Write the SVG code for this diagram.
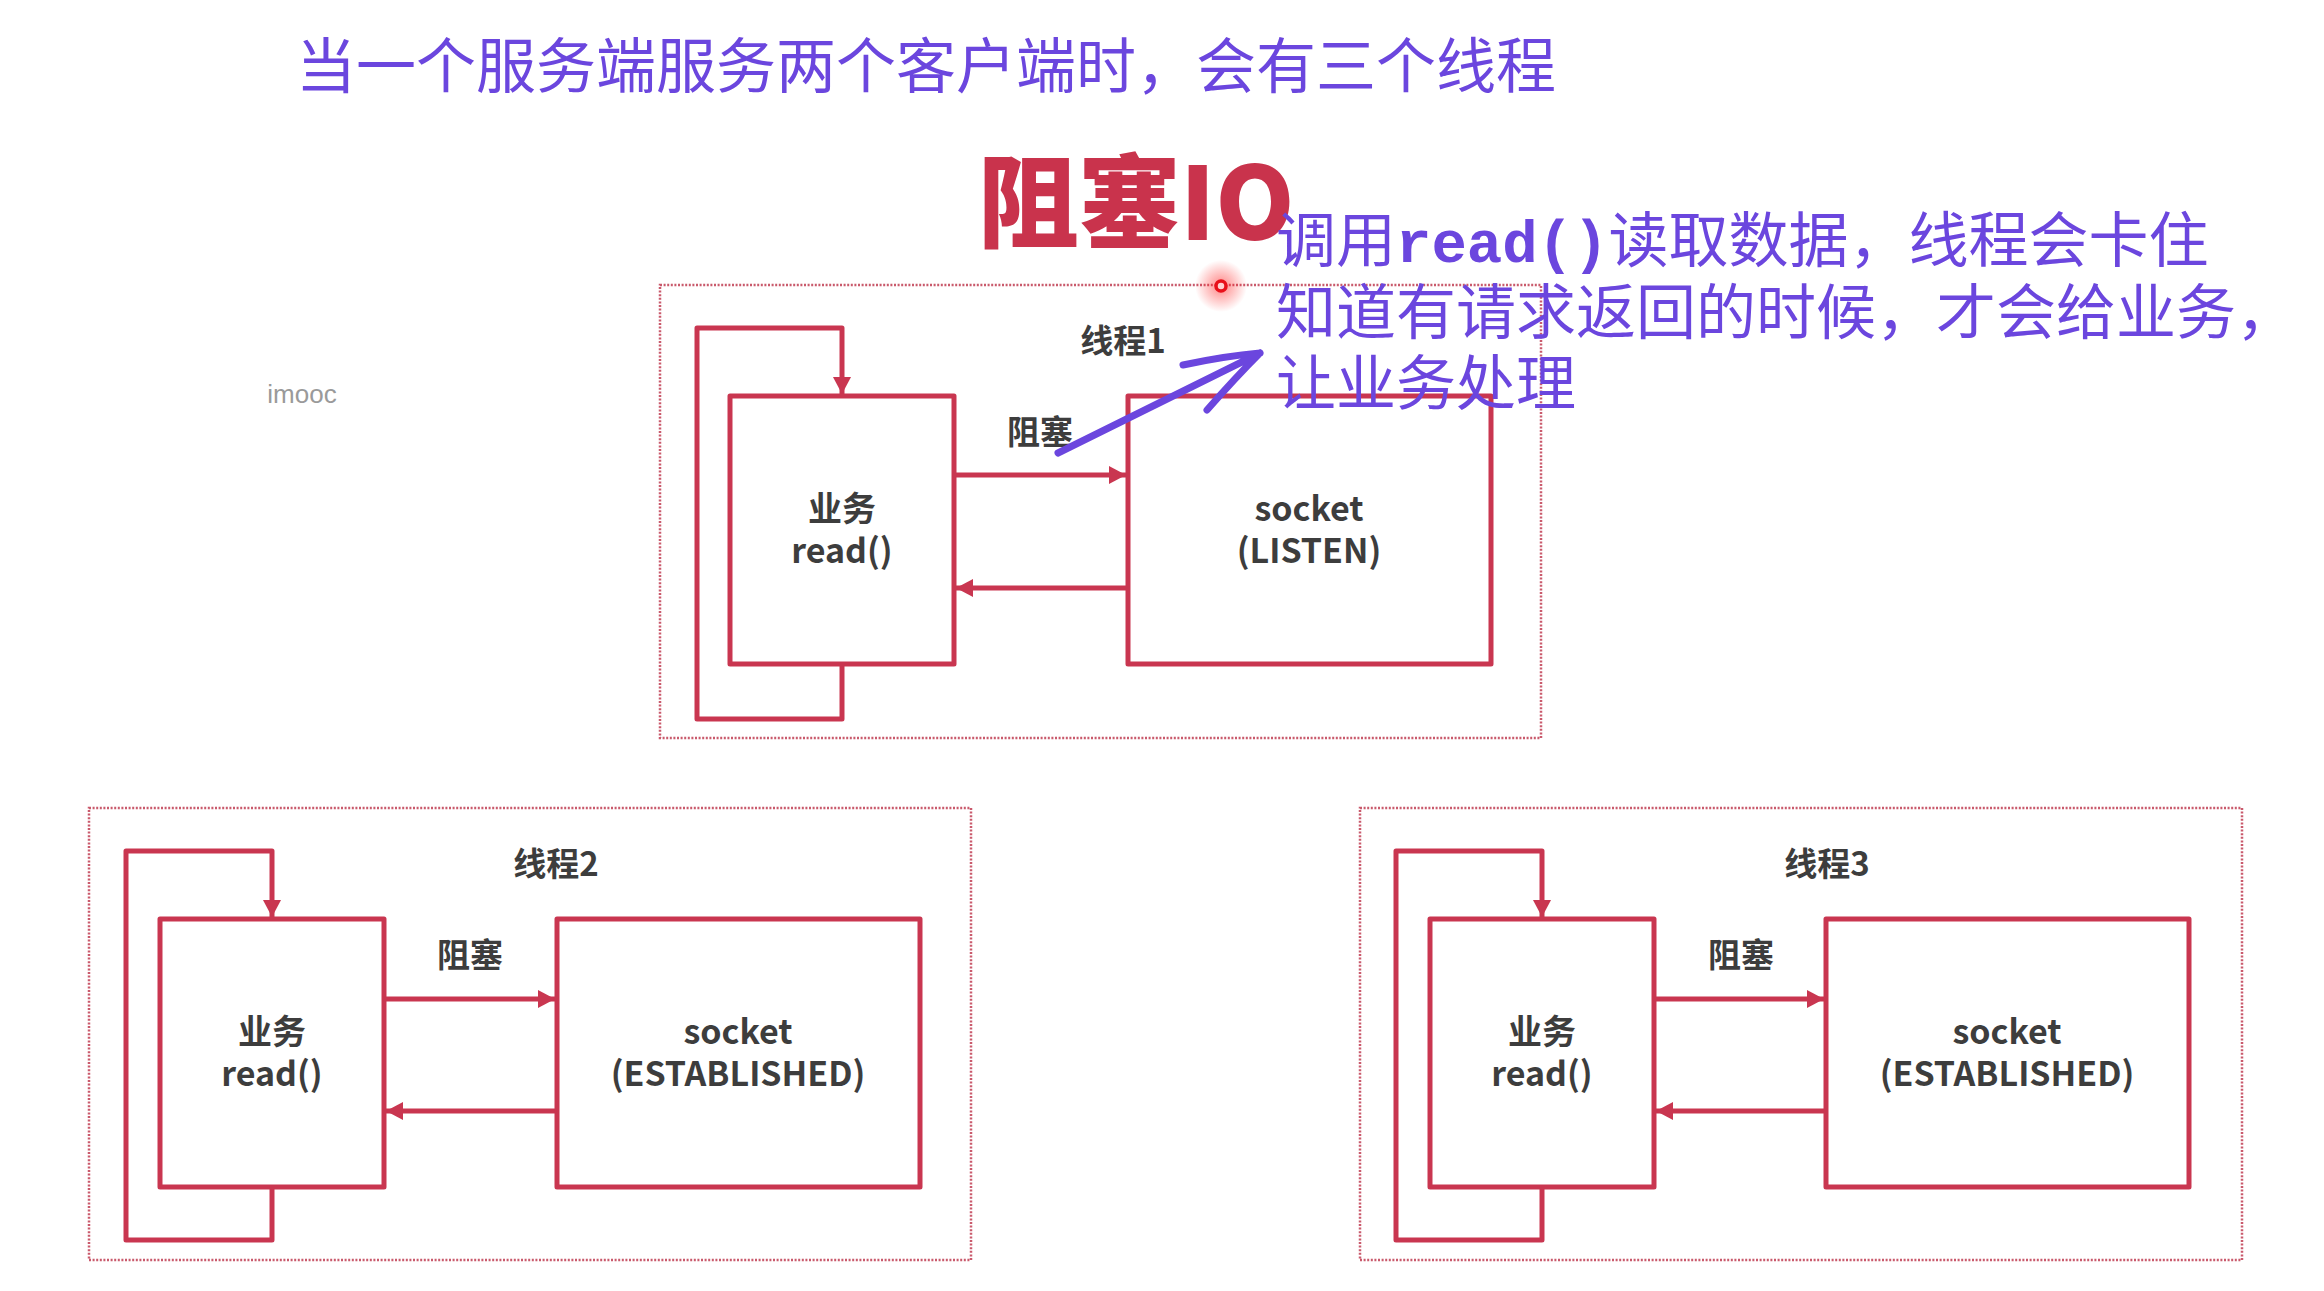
<svg xmlns="http://www.w3.org/2000/svg" width="2324" height="1291" viewBox="0 0 2324 1291">
<defs>
<style>
.dot{fill:none;stroke:#c95a6c;stroke-width:2.5;stroke-dasharray:2 1.6}
.box{fill:#fff;stroke:#c93650;stroke-width:5;stroke-linejoin:round}
.wire{fill:none;stroke:#c93650;stroke-width:5;stroke-linejoin:round}
.lbl{font-family:"Noto Sans CJK SC","Noto Sans",sans-serif;font-weight:700;font-size:34px;fill:#3d3d3d;text-anchor:middle}
.tl{font-size:33px}
.note{font-family:"Noto Sans CJK SC","Noto Sans",sans-serif;font-size:60px;fill:#6b46de}
.mono{font-family:"Liberation Mono","DejaVu Sans Mono",monospace;font-weight:700;font-size:59px}
</style>
<marker id="ah" markerUnits="userSpaceOnUse" markerWidth="18" markerHeight="18" refX="17" refY="9" orient="auto"><path d="M0,0 L17,9 L0,18 z" fill="#c93650"/></marker>
<radialGradient id="glow"><stop offset="0" stop-color="#ff2020" stop-opacity="0.55"/><stop offset="1" stop-color="#ff2020" stop-opacity="0"/></radialGradient>
</defs>
<rect width="2324" height="1291" fill="#fff"/>

<g id="title">
<text x="296" y="88" font-family="Noto Sans CJK SC, sans-serif" font-size="60" fill="#6b46de">当一个服务端服务两个客户端时，会有三个线程</text>
<text x="978" y="240" font-family="Noto Sans CJK SC, sans-serif" font-weight="900" font-size="101" fill="#c9334c">阻塞IO</text>
<text x="302" y="403" font-family="Liberation Sans, Arial, sans-serif" font-size="26" fill="#9a9a9a" text-anchor="middle">imooc</text>
</g>

<g id="threads">
<g id="thread1" transform="translate(660,285)">
<rect class="dot" x="0" y="0" width="881" height="453"/>
<text class="lbl tl" x="463" y="68">线程1</text>
<text class="lbl tl" x="380" y="159">阻塞</text>
</g>
<g id="thread2" transform="translate(89,808)">
<rect class="dot" x="0" y="0" width="882" height="452"/>
<text class="lbl tl" x="467" y="68">线程2</text>
<text class="lbl tl" x="381" y="159">阻塞</text>
</g>
<g id="thread3" transform="translate(1360,808)">
<rect class="dot" x="0" y="0" width="882" height="452"/>
<text class="lbl tl" x="467" y="68">线程3</text>
<text class="lbl tl" x="381" y="159">阻塞</text>
</g>
</g>

<g id="nodes">
<g id="t1-business" transform="translate(660,285)">
<rect class="box" x="70" y="111" width="224" height="268"/>
<text class="lbl" x="182" y="236">业务</text>
<text class="lbl" x="182" y="278">read()</text>
</g>
<g id="t1-socket" transform="translate(660,285)">
<rect class="box" x="468" y="111" width="363" height="268"/>
<text class="lbl" x="649" y="236">socket</text>
<text class="lbl" x="649" y="278">(LISTEN)</text>
</g>
<g id="t2-business" transform="translate(89,808)">
<rect class="box" x="71" y="111" width="224" height="268"/>
<text class="lbl" x="183" y="236">业务</text>
<text class="lbl" x="183" y="278">read()</text>
</g>
<g id="t2-socket" transform="translate(89,808)">
<rect class="box" x="468" y="111" width="363" height="268"/>
<text class="lbl" x="649" y="236">socket</text>
<text class="lbl" x="649" y="278">(ESTABLISHED)</text>
</g>
<g id="t3-business" transform="translate(1360,808)">
<rect class="box" x="70" y="111" width="224" height="268"/>
<text class="lbl" x="182" y="236">业务</text>
<text class="lbl" x="182" y="278">read()</text>
</g>
<g id="t3-socket" transform="translate(1360,808)">
<rect class="box" x="466" y="111" width="363" height="268"/>
<text class="lbl" x="647" y="236">socket</text>
<text class="lbl" x="647" y="278">(ESTABLISHED)</text>
</g>
</g>

<g id="connectors">
<g transform="translate(660,285)">
<path class="wire" d="M182,379 V434 H37 V43 H182 V109" marker-end="url(#ah)"/>
<path class="wire" d="M294,190 H466" marker-end="url(#ah)"/>
<path class="wire" d="M468,303 H296" marker-end="url(#ah)"/>
</g>
<g transform="translate(89,808)">
<path class="wire" d="M183,379 V432 H37 V43 H183 V109" marker-end="url(#ah)"/>
<path class="wire" d="M295,191 H466" marker-end="url(#ah)"/>
<path class="wire" d="M468,303 H297" marker-end="url(#ah)"/>
</g>
<g transform="translate(1360,808)">
<path class="wire" d="M182,379 V432 H36 V43 H182 V109" marker-end="url(#ah)"/>
<path class="wire" d="M294,191 H464" marker-end="url(#ah)"/>
<path class="wire" d="M466,303 H296" marker-end="url(#ah)"/>
</g>
</g>

<g id="annotation">
<circle cx="1221" cy="286" r="26" fill="url(#glow)"/>
<circle cx="1221" cy="286" r="5" fill="#ffd0d0" stroke="#e8101a" stroke-width="3.5"/>
<text class="note" x="1276" y="262">调用<tspan class="mono">read()</tspan>读取数据，线程会卡住</text>
<text class="note" x="1276" y="334">知道有请求返回的时候，才会给业务，</text>
<text class="note" x="1276" y="405">让业务处理</text>
<path d="M1058,453 L1260,353 M1183,365 Q1225,356 1260,353 M1207,410 Q1235,378 1260,353" fill="none" stroke="#6b46de" stroke-width="7" stroke-linecap="round" stroke-linejoin="round"/>
</g>
</svg>
